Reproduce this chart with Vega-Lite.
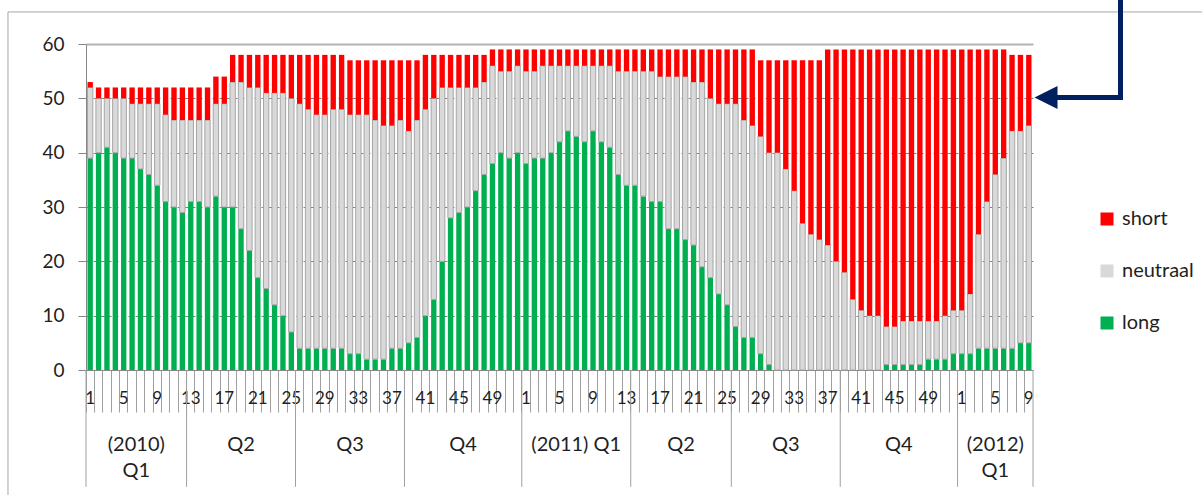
{
  "$schema": "https://vega.github.io/schema/vega-lite/v6.json",
  "width": 947,
  "height": 326,
  "autosize": {"type": "none"},
  "padding": {"left": 86, "top": 44, "right": 169, "bottom": 125},
  "background": "white",
  "config": {"font": "Lato", "view": {"stroke": null}},
  "datasets": {
    "weeks": [
      {"year":2010,"week":1,"long":39,"neutraal":13,"short":1},
      {"year":2010,"week":2,"long":40,"neutraal":10,"short":2},
      {"year":2010,"week":3,"long":41,"neutraal":9,"short":2},
      {"year":2010,"week":4,"long":40,"neutraal":10,"short":2},
      {"year":2010,"week":5,"long":39,"neutraal":11,"short":2},
      {"year":2010,"week":6,"long":39,"neutraal":10,"short":3},
      {"year":2010,"week":7,"long":37,"neutraal":12,"short":3},
      {"year":2010,"week":8,"long":36,"neutraal":13,"short":3},
      {"year":2010,"week":9,"long":34,"neutraal":15,"short":3},
      {"year":2010,"week":10,"long":31,"neutraal":16,"short":5},
      {"year":2010,"week":11,"long":30,"neutraal":16,"short":6},
      {"year":2010,"week":12,"long":29,"neutraal":17,"short":6},
      {"year":2010,"week":13,"long":31,"neutraal":15,"short":6},
      {"year":2010,"week":14,"long":31,"neutraal":15,"short":6},
      {"year":2010,"week":15,"long":30,"neutraal":16,"short":6},
      {"year":2010,"week":16,"long":32,"neutraal":17,"short":5},
      {"year":2010,"week":17,"long":30,"neutraal":19,"short":5},
      {"year":2010,"week":18,"long":30,"neutraal":23,"short":5},
      {"year":2010,"week":19,"long":26,"neutraal":27,"short":5},
      {"year":2010,"week":20,"long":22,"neutraal":30,"short":6},
      {"year":2010,"week":21,"long":17,"neutraal":35,"short":6},
      {"year":2010,"week":22,"long":15,"neutraal":36,"short":7},
      {"year":2010,"week":23,"long":12,"neutraal":39,"short":7},
      {"year":2010,"week":24,"long":10,"neutraal":41,"short":7},
      {"year":2010,"week":25,"long":7,"neutraal":43,"short":8},
      {"year":2010,"week":26,"long":4,"neutraal":45,"short":9},
      {"year":2010,"week":27,"long":4,"neutraal":44,"short":10},
      {"year":2010,"week":28,"long":4,"neutraal":43,"short":11},
      {"year":2010,"week":29,"long":4,"neutraal":43,"short":11},
      {"year":2010,"week":30,"long":4,"neutraal":44,"short":10},
      {"year":2010,"week":31,"long":4,"neutraal":44,"short":10},
      {"year":2010,"week":32,"long":3,"neutraal":44,"short":10},
      {"year":2010,"week":33,"long":3,"neutraal":44,"short":10},
      {"year":2010,"week":34,"long":2,"neutraal":45,"short":10},
      {"year":2010,"week":35,"long":2,"neutraal":44,"short":11},
      {"year":2010,"week":36,"long":2,"neutraal":43,"short":12},
      {"year":2010,"week":37,"long":4,"neutraal":41,"short":12},
      {"year":2010,"week":38,"long":4,"neutraal":42,"short":11},
      {"year":2010,"week":39,"long":5,"neutraal":39,"short":13},
      {"year":2010,"week":40,"long":6,"neutraal":40,"short":11},
      {"year":2010,"week":41,"long":10,"neutraal":38,"short":10},
      {"year":2010,"week":42,"long":13,"neutraal":37,"short":8},
      {"year":2010,"week":43,"long":20,"neutraal":32,"short":6},
      {"year":2010,"week":44,"long":28,"neutraal":24,"short":6},
      {"year":2010,"week":45,"long":29,"neutraal":23,"short":6},
      {"year":2010,"week":46,"long":30,"neutraal":22,"short":6},
      {"year":2010,"week":47,"long":33,"neutraal":19,"short":6},
      {"year":2010,"week":48,"long":36,"neutraal":17,"short":5},
      {"year":2010,"week":49,"long":38,"neutraal":18,"short":3},
      {"year":2010,"week":50,"long":40,"neutraal":15,"short":4},
      {"year":2010,"week":51,"long":39,"neutraal":16,"short":4},
      {"year":2010,"week":52,"long":40,"neutraal":16,"short":3},
      {"year":2011,"week":1,"long":38,"neutraal":17,"short":4},
      {"year":2011,"week":2,"long":39,"neutraal":16,"short":4},
      {"year":2011,"week":3,"long":39,"neutraal":17,"short":3},
      {"year":2011,"week":4,"long":40,"neutraal":16,"short":3},
      {"year":2011,"week":5,"long":42,"neutraal":14,"short":3},
      {"year":2011,"week":6,"long":44,"neutraal":12,"short":3},
      {"year":2011,"week":7,"long":43,"neutraal":13,"short":3},
      {"year":2011,"week":8,"long":42,"neutraal":14,"short":3},
      {"year":2011,"week":9,"long":44,"neutraal":12,"short":3},
      {"year":2011,"week":10,"long":42,"neutraal":14,"short":3},
      {"year":2011,"week":11,"long":41,"neutraal":15,"short":3},
      {"year":2011,"week":12,"long":36,"neutraal":19,"short":4},
      {"year":2011,"week":13,"long":34,"neutraal":21,"short":4},
      {"year":2011,"week":14,"long":34,"neutraal":21,"short":4},
      {"year":2011,"week":15,"long":32,"neutraal":23,"short":4},
      {"year":2011,"week":16,"long":31,"neutraal":24,"short":4},
      {"year":2011,"week":17,"long":31,"neutraal":23,"short":5},
      {"year":2011,"week":18,"long":26,"neutraal":28,"short":5},
      {"year":2011,"week":19,"long":26,"neutraal":28,"short":5},
      {"year":2011,"week":20,"long":24,"neutraal":30,"short":5},
      {"year":2011,"week":21,"long":23,"neutraal":30,"short":6},
      {"year":2011,"week":22,"long":19,"neutraal":34,"short":6},
      {"year":2011,"week":23,"long":17,"neutraal":33,"short":9},
      {"year":2011,"week":24,"long":14,"neutraal":35,"short":10},
      {"year":2011,"week":25,"long":12,"neutraal":37,"short":10},
      {"year":2011,"week":26,"long":8,"neutraal":41,"short":10},
      {"year":2011,"week":27,"long":6,"neutraal":40,"short":13},
      {"year":2011,"week":28,"long":6,"neutraal":39,"short":14},
      {"year":2011,"week":29,"long":3,"neutraal":40,"short":14},
      {"year":2011,"week":30,"long":1,"neutraal":39,"short":17},
      {"year":2011,"week":31,"long":0,"neutraal":40,"short":17},
      {"year":2011,"week":32,"long":0,"neutraal":37,"short":20},
      {"year":2011,"week":33,"long":0,"neutraal":33,"short":24},
      {"year":2011,"week":34,"long":0,"neutraal":27,"short":30},
      {"year":2011,"week":35,"long":0,"neutraal":25,"short":32},
      {"year":2011,"week":36,"long":0,"neutraal":24,"short":33},
      {"year":2011,"week":37,"long":0,"neutraal":23,"short":36},
      {"year":2011,"week":38,"long":0,"neutraal":20,"short":39},
      {"year":2011,"week":39,"long":0,"neutraal":18,"short":41},
      {"year":2011,"week":40,"long":0,"neutraal":13,"short":46},
      {"year":2011,"week":41,"long":0,"neutraal":11,"short":48},
      {"year":2011,"week":42,"long":0,"neutraal":10,"short":49},
      {"year":2011,"week":43,"long":0,"neutraal":10,"short":49},
      {"year":2011,"week":44,"long":1,"neutraal":7,"short":51},
      {"year":2011,"week":45,"long":1,"neutraal":7,"short":51},
      {"year":2011,"week":46,"long":1,"neutraal":8,"short":50},
      {"year":2011,"week":47,"long":1,"neutraal":8,"short":50},
      {"year":2011,"week":48,"long":1,"neutraal":8,"short":50},
      {"year":2011,"week":49,"long":2,"neutraal":7,"short":50},
      {"year":2011,"week":50,"long":2,"neutraal":7,"short":50},
      {"year":2011,"week":51,"long":2,"neutraal":8,"short":49},
      {"year":2011,"week":52,"long":3,"neutraal":8,"short":48},
      {"year":2012,"week":1,"long":3,"neutraal":8,"short":48},
      {"year":2012,"week":2,"long":3,"neutraal":11,"short":45},
      {"year":2012,"week":3,"long":4,"neutraal":21,"short":34},
      {"year":2012,"week":4,"long":4,"neutraal":27,"short":28},
      {"year":2012,"week":5,"long":4,"neutraal":32,"short":23},
      {"year":2012,"week":6,"long":4,"neutraal":35,"short":20},
      {"year":2012,"week":7,"long":4,"neutraal":40,"short":14},
      {"year":2012,"week":8,"long":5,"neutraal":39,"short":14},
      {"year":2012,"week":9,"long":5,"neutraal":40,"short":13}
    ]
  },
  "layer": [
    {
      "layer": [
        {
          "data": {"name": "weeks"},
          "transform": [
            {"calculate": "datum.year*100+datum.week", "as": "t"},
            {"fold": ["long", "neutraal", "short"], "as": ["series", "value"]},
            {"calculate": "indexof(['long','neutraal','short'], datum.series)", "as": "ord"}
          ],
          "mark": {"type": "bar", "width": {"band": 0.64}, "strokeWidth": 1},
          "encoding": {
            "x": {
              "field": "t",
              "type": "ordinal",
              "scale": {"paddingInner": 0, "paddingOuter": 0},
              "axis": {
                "title": null,
                "labelExpr": "datum.value % 100 % 4 == 1 ? '' + (datum.value % 100) : ''",
                "labelOverlap": false,
                "labelAngle": 0,
                "labelFontSize": 17,
                "labelColor": "#1f1f1f",
                "labelBaseline": "middle",
                "labelPadding": -14,
                "labelFlush": false,
                "labelBound": false,
                "tickSize": 42,
                "tickColor": "#a0a0a0",
                "tickWidth": 1,
                "bandPosition": 0,
                "tickExtra": true,
                "domainColor": "#868686",
                "grid": false
              }
            },
            "y": {
              "field": "value",
              "type": "quantitative",
              "stack": "zero",
              "scale": {"domain": [0, 60], "nice": false},
              "axis": {
                "title": null,
                "values": [0, 10, 20, 30, 40, 50, 60],
                "labelFontSize": 19,
                "labelColor": "#1f1f1f",
                "labelPadding": 14,
                "tickSize": 8,
                "tickColor": "#868686",
                "domainColor": "#868686",
                "grid": true,
                "gridColor": {"condition": {"test": "datum.value == 60", "value": "#b4b4b4"}, "value": "#808080"},
                "gridDash": {"condition": {"test": "datum.value == 60", "value": []}, "value": [4, 3]},
                "gridWidth": {"condition": {"test": "datum.value == 60", "value": 2}, "value": 1}
              }
            },
            "color": {
              "field": "series",
              "type": "nominal",
              "scale": {"domain": ["short", "neutraal", "long"], "range": ["#ff0000", "#d9d9d9", "#00b050"]},
              "legend": {
                "orient": "none",
                "legendX": 1011,
                "legendY": 165,
                "title": null,
                "symbolType": "square",
                "symbolSize": 169,
                "symbolStrokeWidth": 0,
                "labelFontSize": 20,
                "labelColor": "#1f1f1f",
                "labelOffset": 5,
                "rowPadding": 32,
                "padding": 0
              }
            },
            "stroke": {"condition": {"test": "datum.series == 'neutraal'", "value": "#a6a6a6"}, "value": "transparent"},
            "order": {"field": "ord", "type": "quantitative"}
          }
        },
        {
          "data": {"values": [{"t":201001},{"t":201013},{"t":201026},{"t":201039},{"t":201101},{"t":201114},{"t":201126},{"t":201139},{"t":201201}]},
          "mark": {"type": "rule", "color": "#a0a0a0", "strokeWidth": 1},
          "encoding": {
            "x": {"field": "t", "type": "ordinal", "bandPosition": 0},
            "y": {"datum": 0},
            "y2": {"datum": -21.5}
          }
        },
        {
          "data": {"values": [{"t":201209}]},
          "mark": {"type": "rule", "color": "#a0a0a0", "strokeWidth": 1},
          "encoding": {
            "x": {"field": "t", "type": "ordinal", "bandPosition": 1},
            "y": {"datum": 0},
            "y2": {"datum": -21.5}
          }
        },
        {
          "data": {"values": [{"t":201007,"label":"(2010)\nQ1"},{"t":201046,"label":"Q4"},{"t":201120,"label":"Q2"},{"t":201146,"label":"Q4"}]},
          "mark": {"type": "text", "lineBreak": "\n", "baseline": "top", "align": "center", "fontSize": 20, "lineHeight": 26, "color": "#1f1f1f"},
          "encoding": {
            "x": {"field": "t", "type": "ordinal", "bandPosition": 0},
            "y": {"datum": -12.0},
            "text": {"field": "label"}
          }
        },
        {
          "data": {"values": [{"t":201019,"label":"Q2"},{"t":201032,"label":"Q3"},{"t":201107,"label":"(2011) Q1"},{"t":201132,"label":"Q3"},{"t":201205,"label":"(2012)\nQ1"}]},
          "mark": {"type": "text", "lineBreak": "\n", "baseline": "top", "align": "center", "fontSize": 20, "lineHeight": 26, "color": "#1f1f1f"},
          "encoding": {
            "x": {"field": "t", "type": "ordinal", "bandPosition": 0.5},
            "y": {"datum": -12.0},
            "text": {"field": "label"}
          }
        }
      ]
    },
    {
      "data": {"values": [{}]},
      "layer": [
        {
          "mark": {"type": "rule", "color": "#a6a6a6", "strokeWidth": 1},
          "encoding": {
            "x": {"datum": -8.81, "type": "quantitative", "scale": {"domain": [0.5, 113.5], "nice": false, "zero": false}, "axis": null},
            "y": {"datum": 65.9},
            "y2": {"datum": -25}
          }
        },
        {
          "mark": {"type": "rule", "color": "#a6a6a6", "strokeWidth": 1},
          "encoding": {
            "x": {"datum": -8.81, "type": "quantitative", "axis": null},
            "x2": {"datum": 140},
            "y": {"datum": 65.9}
          }
        },
        {
          "mark": {"type": "rule", "color": "#002060", "strokeWidth": 5},
          "encoding": {
            "x": {"datum": 123.94, "type": "quantitative", "axis": null},
            "y": {"datum": 69.5},
            "y2": {"datum": 49.69}
          }
        },
        {
          "mark": {"type": "rule", "color": "#002060", "strokeWidth": 5},
          "encoding": {
            "x": {"datum": 115.5, "type": "quantitative", "axis": null},
            "x2": {"datum": 124.24},
            "y": {"datum": 50.15}
          }
        },
        {
          "mark": {"type": "point", "shape": "M-1,0L1,-1L1,1Z", "size": 529, "filled": true, "color": "#002060", "opacity": 1, "strokeWidth": 0},
          "encoding": {
            "x": {"datum": 115.05, "type": "quantitative", "axis": null},
            "y": {"datum": 50.15}
          }
        }
      ]
    }
  ],
  "resolve": {"scale": {"x": "independent"}}
}
